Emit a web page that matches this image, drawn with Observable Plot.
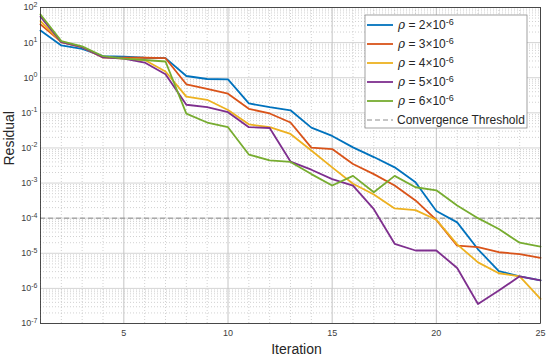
<!DOCTYPE html>
<html><head><meta charset="utf-8">
<script src="https://cdn.jsdelivr.net/npm/d3@7"></script>
<script src="https://cdn.jsdelivr.net/npm/@observablehq/plot@0.6"></script>
<style>
body{margin:0;background:#fff;}
#chart{position:relative;width:550px;height:358px;}
</style></head><body><div id="chart"></div>
<script>
const iterations = [1,2,3,4,5,6,7,8,9,10,11,12,13,14,15,16,17,18,19,20,21,22,23,24,25];
const rhoLabels = ["2","3","4","5","6"];
const seriesColors = ["#0072BD","#D95319","#EDB120","#7E2F8E","#77AC30"];
const res2 = [22, 8.3, 6.6, 4.1, 4.0, 3.7, 3.6, 1.12, 0.92, 0.9, 0.185, 0.145, 0.118, 0.038, 0.022, 0.0104, 0.0055, 0.0028, 0.00105, 0.00016, 0.000076, 0.000013, 0.0000031, 0.0000022, 0.0000017];
const res3 = [33, 10.3, 7.4, 3.8, 3.7, 3.7, 3.6, 0.65, 0.48, 0.35, 0.13, 0.096, 0.053, 0.0102, 0.0093, 0.0035, 0.0018, 0.00085, 0.00032, 0.000089, 0.0000165, 0.000015, 0.0000107, 0.0000095, 0.0000074];
const res4 = [41, 10.3, 7.4, 3.8, 3.5, 3.2, 1.5, 0.29, 0.235, 0.12, 0.047, 0.039, 0.025, 0.0085, 0.0028, 0.00096, 0.00047, 0.00019, 0.00017, 0.00009, 0.000018, 0.0000055, 0.0000027, 0.0000022, 0.0000005];
const res5 = [55, 10.3, 7.4, 3.8, 3.5, 2.7, 1.25, 0.17, 0.145, 0.104, 0.039, 0.037, 0.0041, 0.0024, 0.0013, 0.00085, 0.00018, 0.0000186, 0.000012, 0.000012, 0.0000038, 0.00000036, 0.00000087, 0.0000022, 0.0000017];
const res6 = [63, 11, 7.8, 4.1, 3.5, 3.2, 2.9, 0.095, 0.053, 0.039, 0.0065, 0.0044, 0.0040, 0.0018, 0.00085, 0.0016, 0.00055, 0.0016, 0.00076, 0.00062, 0.00023, 0.0001, 0.000049, 0.00002, 0.0000155];
const threshold = 1e-4;
const yTicks = [1e-7,1e-6,1e-5,1e-4,1e-3,1e-2,1e-1,1,10,100];
const xTicks = [5,10,15,20,25];
const xLabel = "Iteration";
const yLabel = "Residual";
const thresholdLabel = "Convergence Threshold";

const allSeries = [res2,res3,res4,res5,res6];
const data = [];
allSeries.forEach((arr,k)=>arr.forEach((v,i)=>data.push({it:iterations[i], r:v, s:rhoLabels[k]})));
const minorY = [];
for (let e=-7; e<2; e++) for (let m=2; m<10; m++) minorY.push(m*Math.pow(10,e));
const minorX = iterations.filter(d=>!xTicks.includes(d));

const svg = Plot.plot({
  width:550, height:358, marginLeft:40, marginRight:10, marginTop:7, marginBottom:35,
  style:{fontFamily:"'Liberation Sans', Arial, sans-serif", fontSize:"9px", color:"#404040", background:"#fff"},
  x:{domain:[1,25]},
  y:{type:"log", domain:[1e-7,1e2]},
  color:{domain:rhoLabels, range:seriesColors},
  marks:[
    Plot.ruleY(minorY,{stroke:"#bdbdbd", strokeDasharray:"1,2", strokeWidth:0.7}),
    Plot.ruleX(minorX,{stroke:"#bdbdbd", strokeDasharray:"1,2", strokeWidth:0.7}),
    Plot.ruleY(yTicks,{stroke:"#d4d4d4", strokeWidth:1}),
    Plot.ruleX(xTicks,{stroke:"#c4c4c4", strokeWidth:1}),
    Plot.ruleY([threshold],{stroke:"#8c8c8c", strokeDasharray:"5,3", strokeWidth:1}),
    Plot.line(data,{x:"it", y:"r", z:"s", stroke:"s", strokeWidth:1.8}),
    Plot.frame({stroke:"#262626", strokeWidth:0.8}),
    Plot.axisX({ticks:xTicks, tickSize:0, tickPadding:6, label:null}),
    Plot.axisY({ticks:yTicks, tickSize:0, tickPadding:3, label:null, tickFormat:d=>"10^"+Math.round(Math.log10(d))}),
    Plot.text([xLabel],{text:d=>d, frameAnchor:"bottom", dy:26, dx:6, lineAnchor:"middle", fontSize:14, fill:"#262626"}),
    Plot.text([yLabel],{text:d=>d, frameAnchor:"left", dx:-31, rotate:-90, lineAnchor:"middle", fontSize:14, fill:"#262626"})
  ]
});

// superscript exponents on y tick labels
d3.select(svg).selectAll('g[aria-label="y-axis tick label"] text').each(function(){
  const t = this.textContent; const parts = t.split("^");
  const sel = d3.select(this); sel.text("");
  sel.append("tspan").text(parts[0]);
  sel.append("tspan").attr("dy","-0.5em").style("font-size","7px").text(parts[1]);
});

// legend
const lg = d3.select(svg).append("g")
  .style("font-family","'Liberation Sans', Arial, sans-serif").style("font-size","12px")
  .style("text-anchor","start").attr("fill","#262626");
lg.append("rect").attr("x",365).attr("y",15).attr("width",162).attr("height",113).attr("fill","#fff").attr("stroke","#8a8a8a").attr("stroke-width",0.8);
const rowY = k => 25 + k*19;
rhoLabels.forEach((lab,k)=>{
  const y = rowY(k);
  lg.append("line").attr("x1",367).attr("x2",393).attr("y1",y).attr("y2",y).attr("stroke",seriesColors[k]).attr("stroke-width",1.8);
  const t = lg.append("text").attr("x",398).attr("y",y+4).style("text-anchor","start");
  t.append("tspan").style("font-style","italic").style("font-family","'DejaVu Serif', serif").text("ρ");
  t.append("tspan").text(" = " + lab + "×10");
  t.append("tspan").attr("dy","-0.5em").style("font-size","9px").text("-6");
});
const ty = rowY(5);
lg.append("line").attr("x1",367).attr("x2",393).attr("y1",ty).attr("y2",ty).attr("stroke","#8c8c8c").attr("stroke-dasharray","5,3").attr("stroke-width",1);
lg.append("text").attr("x",397).attr("y",ty+4).style("text-anchor","start").text(thresholdLabel);

document.getElementById("chart").appendChild(svg);
</script>
</body></html>
